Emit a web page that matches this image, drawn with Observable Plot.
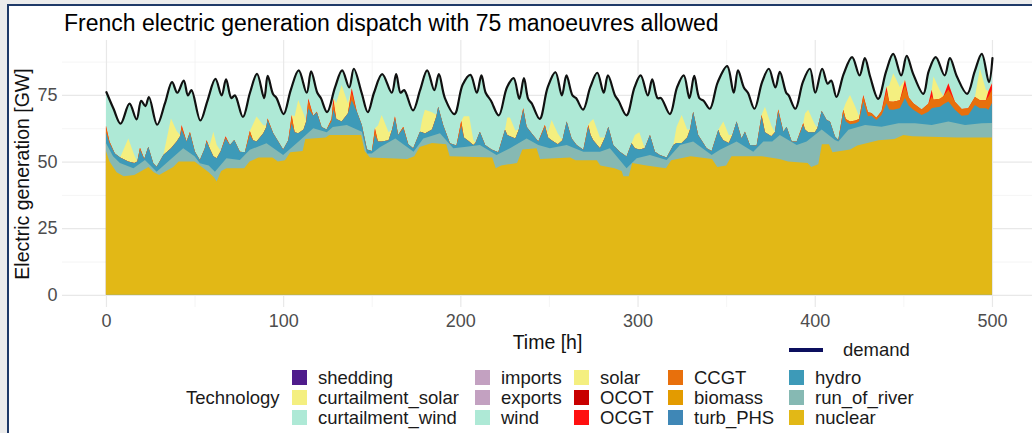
<!DOCTYPE html>
<html><head><meta charset="utf-8">
<script src="https://cdn.jsdelivr.net/npm/d3@7"></script>
<script src="https://cdn.jsdelivr.net/npm/@observablehq/plot@0.6"></script>
<style>
html,body{margin:0;padding:0;width:1032px;height:433px;overflow:hidden;background:#ececec;font-family:"Liberation Sans",Arial,sans-serif;}
#panel{position:absolute;left:7px;top:4px;width:1040px;height:440px;background:#fff;border-left:2px solid #1f3a68;border-top:2px solid #1f3a68;}
#chart{position:absolute;left:0;top:0;}
#title{position:absolute;left:64px;top:11.5px;font-size:23px;line-height:23px;color:#000;white-space:nowrap;}
.lg{position:absolute;font-size:18.5px;line-height:20px;color:#1a1a1a;white-space:nowrap;}
.key{position:absolute;width:15px;height:15px;}
</style></head><body>
<div id="panel"></div>
<div id="chart"></div>
<div id="title">French electric generation dispatch with 75 manoeuvres allowed</div>
<div id="legend"></div>
<script>
// ---------- data ----------
const xTicks = [0, 100, 200, 300, 400, 500];
const xMinor = [50, 150, 250, 350, 450];
const yTicks = [0, 25, 50, 75];
const yMinor = [12.5, 37.5, 62.5, 87.5];

const techNames = ["shedding","curtailment_solar","curtailment_wind","imports","exports","wind","solar","OCOT","OCGT","CCGT","biomass","turb_PHS","hydro","run_of_river","nuclear"];
const techColors = ["#4f1c8c","#f4ef80","#aee9d6","#c3a1c1","#c3a1c1","#aee9d6","#f4ef80","#c80000","#ff1010","#e8700c","#e39b00","#3f87b6","#3d9ab8","#86b9b3","#e2b816"];

// demand (GW)
const demandHour = [0,4,8,13,17,19.6,22,24,28.6,33,37,40,43.6,46,48,53,57,61.5,65,67.5,70.5,72.5,77,81,85,89,91,94,96,100,
 104,108.5,113,115.5,119,121,124.5,129,133,137,139.6,144,147.5,151,155.6,161,163.5,166,168,173,177,181,185,187.6,191,196.4,
 201,205.4,209,211.6,214,217,221.4,226,229.8,233,235.6,238,240,244.5,249,253.4,257,259.6,263,265,269,273,277,280.6,283,287,289,293.5,
 298,301.5,305.5,308,311,313,318,322,325.8,329,331.7,334.6,337,340.5,345,350.3,354,356.4,359.7,362,365.7,370,373.8,377.5,380,383.6,385,388.8,
 393,397,400,403.9,407,409,412,416,420.8,425,428,431,435.5,440,444,448.5,451.6,455.3,461,464,468,473,476,480,485.7,490,494,498,500];
const demandGW = [76.2,70,64.4,71.9,66,73,71,74.4,64,72,80,76,80.6,75,77,65.6,73,81.2,75,81,74,75,66.9,76,83.1,74,82.3,75.5,74,68,
 77,84.4,76,84,76,74,68.7,78,84.4,78,85,76,68.7,76,83,76,83,76,77,69.4,77,84.4,77,83,74,68,
 79,82.7,76,82.5,76,73,67.5,78,81.5,73.7,81.5,73.7,72,66.2,78,83.7,75,82.5,75,74,69.7,78,83.5,76,82.5,75,73,67.5,
 78,82.5,75,81,74,74,68,78,82.5,74,82.3,74,73,70,80,86,76,84.4,78,76,70,80,85,78,83.8,76,75,70,
 80,85,76,85,79.4,80.6,74.4,83,89.4,82.5,89,82,73.7,84,90.6,82.5,89.8,83,75.6,84,89.4,82.5,89,82,75.6,84,90.6,80,89];

// nuclear (GW)
const nuclearHour = [0,2,6,10,16,20,24,27,30,34,38,41,50,53,58,61,62.5,65,68,78,81,86,94,97,101,104,111,112.5,124,126,144,146,149,
 170,174,177,184,192,194,218,220,223,232,235,243,245,262,265,277,279,287,291,292,295,297,305,316,319,330,342,345,350,353,370,380,385,
 396,398,402,404,408,410,420,424,436,445,450,455,480,500];
const nuclearGW = [54,50,46,44.5,45,46.5,48,46,45,46.5,48,50,50,48.5,46,44,42.5,46.5,47.5,47.5,50,51.5,51.5,50,50.5,53.5,54,58.5,59,60,60,54,51.5,
 51,52,55.5,57,56.5,52,51.5,47.5,48.5,49.5,54.5,55,51,51.5,50.5,50.5,48.5,47.5,46.5,44.5,44.5,49.5,48.5,47.5,50.5,52,51,48,48.5,52,52,51,50,
 49.5,48,49,56.5,56.5,53.5,54.5,56,58,58.5,60,59.5,59,59];

// nuclear + run_of_river stack top (GW)
const riverHour = [0,4,7.9,15.5,22,28.6,34,43.6,50,53,58,61.5,68,75.6,81.2,90.6,100,109.5,117,124.6,128,135.9,144.4,147.3,150,154.8,163.3,
 173.6,179.1,188.5,196,203.5,211,220.4,228,237.4,244,250.5,260,269.4,278.8,284.4,293.8,299.5,307,316.4,323.9,331.4,341.8,346.5,355.9,
 365.3,371,376,380.3,389.8,395.4,403.9,411.4,413.3,419,428.4,437.7,447.2,456.6,466,475.4,484.8,494.2,500];
const riverTopGW = [57,52,49.5,47.5,50.6,46.2,49.4,55,52,49.4,48.5,46.2,51.2,50.6,54.4,56.9,52.5,58,62.5,61,63,63.7,61.2,53,53,55.5,58.7,
 53.7,58.7,60.6,55,55.6,56.2,52.5,55,58.7,56.2,55,56.2,53.7,53.7,55,47.5,51.2,52.5,50.6,56.2,57.5,52.5,54.4,57.5,
 53.7,57.5,57.5,60,56.2,57.5,62,58.1,57.5,61.9,63.7,63.1,64.4,64.4,63.7,65,63.7,64.4,64.5];

// hydro stack top (GW) and the CCGT, OCGT, solar layers above it (GW), on one shared hour grid
const midHour = [
 0,2,5,8,12.6,16,17.7,19.2,21.6,23.9,26.7,28.6,
 32.4,36.7,39.9,41.8,42.7,45.5,47.4,50.2,53,
 55.8,56.8,58.5,60.6,62.5,64.8,67.5,70,72.4,75.6,78.4,
 81.2,83,85,88.8,90.5,91.2,94.4,100,
 102.9,104.8,106.5,108.5,111.5,113,114.2,117,119,121.7,124.5,
 127.3,128.3,130,133,136.5,138.7,141.6,144.4,147.3,150.1,
 151.8,153.5,155.6,159.5,161.5,163.1,164.9,167.8,170.6,173.4,
 177.2,178.5,180,184,186.5,187.5,190.3,194.1,197.8,
 200.5,202,205,207.3,208.5,211,214,217.6,221.4,
 225.2,226.5,228,231,233,235.5,237.4,240.2,244,
 247.7,249.5,251.5,255,257.6,260,262.8,265.6,269.4,
 272.2,273.5,275,278.8,281.6,283.5,286.3,290,293.8,
 296.6,298.5,301,304,307,309.8,312.6,316.4,
 320.2,322,324.9,328,329.6,331.4,334.2,339,341.8,
 345.6,346.5,348.4,351.5,353.5,355.9,358.7,360.6,363.4,367.2,
 370,371.9,375.5,377.5,379.4,382.3,384.1,387,389.8,
 393.5,394.5,396.3,400,401.5,403.9,406.7,408.6,411.4,413.3,
 416.1,417.5,419.9,423,425,427.4,430,432,434.8,437.7,
 440.5,442,444.3,448,450.9,453,455.6,460.3,
 464.1,466,467,470.7,472.6,475.4,479.1,482.9,486.6,
 490.4,493.2,496.5,498,500];
const hydroTopGW = [
 61,57,53,51.5,50,49.5,50,54.4,51,55.6,49.4,48.1,
 52.5,55,57.5,59.5,61.9,57.5,60.6,53.7,50.6,
 55,57.5,55,52,51.2,54,58.7,56.2,58.1,53.7,53.5,
 60,58,57.5,60.6,63,65.6,60.6,54.5,
 58,64.4,61,60.6,62,65,70,67.2,68.4,63,62,
 65,69.6,66,65,68,73,68.7,63.7,54.5,54,
 60,57.5,57.5,58,62,66.2,60,62.5,56.5,55,
 61.2,61,60.5,62,67,70.6,63.7,56.9,56,
 63.4,59,57.5,56.2,57,61.2,56.2,54.5,53.5,
 61.9,60,59.5,58.7,62,69.4,63.1,60.6,57.5,
 63.1,59,58,56.5,58,65,58.7,56.2,54.4,
 63.1,60,58,55,59,63.1,56.2,53.7,51.9,
 56.9,55,54.5,55,60,53.7,52.5,51.5,
 56.2,57,57,59,62,68.7,60,55,54,
 61.9,60,58,57,60,65,58.7,61.2,56.2,56,
 66.9,61,59.5,61,68.7,61.2,63.1,57.5,57.5,
 63.7,62,61,61,62.5,69,65.6,65,59.4,58.1,
 68.1,65,64,64.4,65,72.5,67,67.2,65.6,67.5,
 71.9,69.5,69.4,70,73.8,71,69.4,67.5,
 68.7,70,70.2,70.6,71.5,72.5,69.4,67.2,67.5,
 71.2,70,70,69.4,72];
const ccgtGW = [
 2,0.5,0,0,0,0,0,0.8,0,0,0,0,
 0,0,0,0,1.2,0,0.5,0,0,
 0,0.3,0,0,0,0,0.4,0,0,0,0,
 1.5,0,0,0,0,0.6,0,0,
 0,2.5,0,0,0,0,3,0,0.3,0,0,
 1,2.5,0,0,0,3,0,0,0,0,
 2,0,0,0,0,0.5,0,0.6,0,0,
 0,0,0,0,0,0,0,0,0,
 1.8,0,0,0,0,0,0,0,0,
 0,0,0,0,0,0.6,0,0,0,
 0.6,0,0,0,0,0,0,0,0,
 0.6,0,0,0,0,0,0,0,0,
 0,0,0,0,0,0,0,0,
 0,0,0,0,0,0,0,0,0,
 0,0,0,0,0,0,0,0,0,0,
 0.6,0,0,0,0.8,0,0,0,0,
 0.7,0,0,0,0,0,0,0,0,0,
 1.3,1,1,1,1,2,1.5,1,0.8,1.5,
 4.5,3,3,3,4.8,3,2.5,2,
 3,4.5,3,3,3,4.5,3,2.5,2.5,
 3,3,3,5,5];
const ocgtGW = [
 0.5,0,0,0,0,0,0,0,0,0,0,0,
 0,0,0,0,0.6,0,0,0,0,
 0,0.3,0,0,0,0,0.4,0,0,0,0,
 0,0,0,0,0,0,0,0,
 0,0.6,0,0,0,0,0.7,0,0,0,0,
 0,1.6,0,0,0,1.5,0,0,0,0,
 0.5,0,0,0,0,0.3,0,0,0,0,
 0,0,0,0,0,0,0,0,0,
 0,0,0,0,0,0,0,0,0,
 0,0,0,0,0,0,0,0,0,
 0,0,0,0,0,0,0,0,0,
 0,0,0,0,0,0,0,0,0,
 0,0,0,0,0,0,0,0,
 0,0,0,0,0,0,0,0,0,
 0,0,0,0,0,0,0,0,0,0,
 0,0,0,0,0,0,0,0,0,
 0,0,0,0,0,0,0,0,0,0,
 0,0,0,0,0,0.5,0,0,0,0,
 1.7,0,0,0,2,0,0,0,
 0,2.4,0,0,0,2.4,0,0,0,
 0,0,0,2,2.4];
const solarGW = [
 0,0,0,0,8.7,3,0,0,0,0,0,0,
 0,11.2,4,0.5,0,0,0,0,0,
 0,0,1,9.2,5,0,0,0,0,0,0,
 0,6,9.4,3,0.5,0,0,0,
 0,0,6,12.5,6,0,0,0,0,0,0,
 0,0,6,13.7,4,0,0,0,0,0,
 0,6,10,3,0,0,0,0,0,0,
 0,5,8.9,6.5,0.5,0,0,0,0,
 0,8,9.5,2,0,0,0,0,0,
 0,6.5,7,3,0,0,0,0,0,
 0,2,7.6,4,0,0,0,0,0,
 0,5,8,4,0,0,0,0,0,
 0,5,6.5,0,0,0,0,0,
 0,6,10.5,3,0,0,0,0,0,
 0,3,7,3,0,0,0,0,0,0,
 0,9.6,4,0,0,0,0,0,0,
 0,6,8.4,3,0,0,0,0,0,0,
 0,6,10,5,1,0,0,0,0,0,
 0,6,10.7,5,0,0,0,0,
 0,0,8.7,3,0,0,0,0,0,
 0,12,4,0,0];

// ---------- build ----------
const col = Object.fromEntries(techNames.map((n, i) => [n, techColors[i]]));
const demandRows = demandHour.map((t, i) => ({t, v: demandGW[i]}));
const nuclearRows = nuclearHour.map((t, i) => ({t, v: nuclearGW[i]}));
const riverRows = riverHour.map((t, i) => ({t, v: riverTopGW[i]}));
const midRows = midHour.map((t, i) => {
  const h = hydroTopGW[i], c = h + ccgtGW[i], o = c + ocgtGW[i], s = o + solarGW[i];
  return {t, h, c, o, s};
});

const fam = "'Liberation Sans', Arial, sans-serif";
const H = 360;
const chart = Plot.plot({
  width: 1032, height: H,
  marginLeft: 62, marginRight: 0, marginTop: 40, marginBottom: H - 307,
  x: {domain: [-24.8, 522.6], axis: null},
  y: {domain: [-4.55, 95.6], axis: null},
  style: {fontFamily: fam, background: "transparent", overflow: "visible"},
  marks: [
    Plot.ruleX(xMinor, {stroke: "#f0f0f0", strokeWidth: 0.7}),
    Plot.ruleY(yMinor, {stroke: "#f0f0f0", strokeWidth: 0.7}),
    Plot.ruleX(xTicks, {stroke: "#e8e8e8", strokeWidth: 1.2}),
    Plot.ruleY(yTicks, {stroke: "#e8e8e8", strokeWidth: 1.2}),
    // painted from the top of the stack downward
    Plot.areaY(demandRows, {x: "t", y1: 0, y2: "v", fill: col.wind, curve: "catmull-rom"}),
    Plot.areaY(midRows, {x: "t", y1: 0, y2: "s", fill: col.solar}),
    Plot.areaY(midRows, {x: "t", y1: 0, y2: "o", fill: col.OCGT}),
    Plot.areaY(midRows, {x: "t", y1: 0, y2: "c", fill: col.CCGT}),
    Plot.areaY(midRows, {x: "t", y1: 0, y2: "h", fill: col.hydro}),
    Plot.areaY(riverRows, {x: "t", y1: 0, y2: "v", fill: col.run_of_river}),
    Plot.areaY(nuclearRows, {x: "t", y1: 0, y2: "v", fill: col.nuclear}),
    Plot.lineY(demandRows, {x: "t", y: "v", stroke: "#111", strokeWidth: 2.2, curve: "catmull-rom"}),
    // axes
    Plot.text(xTicks, {x: d => d, frameAnchor: "bottom", dy: 14, text: d => String(d), fontSize: 18, fill: "#4d4d4d", lineAnchor: "middle"}),
    Plot.text(yTicks, {y: d => d, frameAnchor: "left", dx: -5, text: d => String(d), fontSize: 18, fill: "#4d4d4d", textAnchor: "end", lineAnchor: "middle"}),
    Plot.text(["Time [h]"], {frameAnchor: "bottom", dy: 35, fontSize: 19.5, fill: "#111", textAnchor: "middle", lineAnchor: "middle"}),
    Plot.text(["Electric generation [GW]"], {frameAnchor: "left", dx: -40, rotate: -90, fontSize: 19.5, fill: "#111", textAnchor: "middle", lineAnchor: "middle"})
  ]
});
document.getElementById("chart").appendChild(chart);

// ---------- legend ----------
const lg = document.getElementById("legend");
function add(html, cls, left, top, extra) {
  const d = document.createElement("div");
  d.className = cls; d.style.left = left + "px"; d.style.top = top + "px";
  if (extra) Object.assign(d.style, extra);
  d.textContent = html; lg.appendChild(d);
}
const keyX = [292, 475, 574, 668, 789];
const rowY = [377.5, 397.5, 417.5];
add("Technology", "lg", 186, rowY[1] - 10);
techNames.forEach((n, i) => {
  const c = Math.floor(i / 3), r = i % 3;
  add("", "key", keyX[c], rowY[r] - 7.5, {background: techColors[i]});
  add(n, "lg", keyX[c] + 26, rowY[r] - 10);
});
add("", "key", 789, 348, {width: "34px", height: "4px", background: "#0c0f5e"});
add("demand", "lg", 843, 340);
</script></body></html>
